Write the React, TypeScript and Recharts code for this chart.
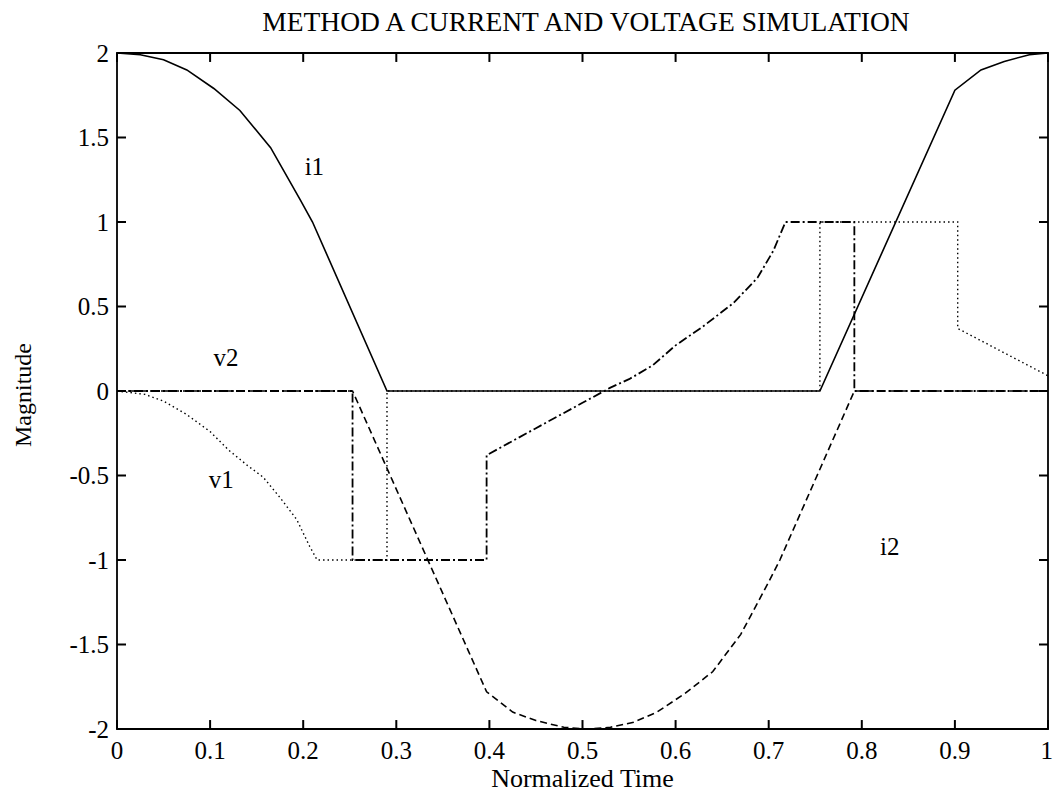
import { Line, LineChart, ReferenceArea, ReferenceDot, ReferenceLine, XAxis, YAxis } from "recharts";

const xTicks = [0, 0.1, 0.2, 0.3, 0.4, 0.5, 0.6, 0.7, 0.8, 0.9, 1];
const yTicks = [-2, -1.5, -1, -0.5, 0, 0.5, 1, 1.5, 2];

// [normalized time, magnitude]
const i1Points: [number, number][] = [
  [0, 2.0], [0.025, 1.99], [0.05, 1.96], [0.075, 1.9], [0.104, 1.79],
  [0.132, 1.66], [0.165, 1.44], [0.197, 1.13], [0.21, 1.0], [0.29, 0],
  [0.755, 0], [0.9, 1.78], [0.928, 1.9], [0.953, 1.95], [0.98, 1.99], [1, 2.0],
];

const i2Points: [number, number][] = [
  [0, 0], [0.253, 0], [0.397, -1.78], [0.425, -1.9], [0.45, -1.95],
  [0.48, -1.99], [0.505, -2.0], [0.53, -1.99], [0.555, -1.96], [0.58, -1.9],
  [0.61, -1.79], [0.64, -1.66], [0.67, -1.44], [0.7, -1.13], [0.712, -1.0],
  [0.792, 0], [1, 0],
];

const v1Points: [number, number][] = [
  [0, 0], [0.03, -0.02], [0.05, -0.06], [0.075, -0.14], [0.1, -0.24],
  [0.12, -0.35], [0.14, -0.44], [0.157, -0.51], [0.175, -0.63], [0.193, -0.76],
  [0.207, -0.92], [0.215, -1.0], [0.29, -1.0], [0.29, 0], [0.755, 0],
  [0.755, 1.0], [0.903, 1.0], [0.903, 0.37], [1, 0.09],
];

const v2Points: [number, number][] = [
  [0, 0], [0.253, 0], [0.253, -1.0], [0.397, -1.0], [0.397, -0.38],
  [0.45, -0.22], [0.5, -0.07], [0.53, 0.02], [0.55, 0.07], [0.575, 0.15],
  [0.6, 0.27], [0.629, 0.38], [0.662, 0.52], [0.688, 0.67], [0.705, 0.83],
  [0.718, 1.0], [0.792, 1.0], [0.792, 0], [1, 0],
];

const curveLabels: { text: string; t: number; v: number }[] = [
  { text: "i1", t: 0.212, v: 1.33 },
  { text: "v2", t: 0.117, v: 0.2 },
  { text: "v1", t: 0.112, v: -0.52 },
  { text: "i2", t: 0.83, v: -0.92 },
];

const toRows = (pts: [number, number][]) => pts.map(([t, v]) => ({ t, v }));

const font = "'Liberation Serif', 'DejaVu Serif', serif";
const tickStyle = { fill: "#000", fontSize: 25, fontFamily: font };

// inward tick length, in data units (about 9px each way)
const X_TICK_LEN = 0.0097;
const Y_TICK_LEN = 0.053;
const tickMark = { stroke: "#000", strokeWidth: 2, ifOverflow: "visible" as const };

export default function App() {
  return (
    <div style={{ position: "absolute", left: 0, top: 0, width: 1053, height: 798, background: "#fff", fontFamily: font }}>
      <LineChart width={1053} height={798} margin={{ top: 53, right: 5, bottom: 0, left: 57 }}>
        <XAxis
          type="number"
          dataKey="t"
          domain={[0, 1]}
          allowDataOverflow
          ticks={xTicks}
          height={69}
          tickSize={0}
          tickMargin={12}
          axisLine={false}
          tickLine={false}
          tick={tickStyle}
        />
        <YAxis
          type="number"
          domain={[-2, 2]}
          allowDataOverflow
          ticks={yTicks}
          width={60}
          tickSize={0}
          tickMargin={8}
          axisLine={false}
          tickLine={false}
          tick={tickStyle}
        />
        <ReferenceArea x1={0} x2={1} y1={-2} y2={2} fill="none" fillOpacity={0} stroke="#000" strokeWidth={1.8} ifOverflow="visible" />
        {xTicks.map((t) => (
          <ReferenceLine key={`b${t}`} segment={[{ x: t, y: -2 }, { x: t, y: -2 + Y_TICK_LEN }]} {...tickMark} />
        ))}
        {xTicks.map((t) => (
          <ReferenceLine key={`t${t}`} segment={[{ x: t, y: 2 }, { x: t, y: 2 - Y_TICK_LEN }]} {...tickMark} />
        ))}
        {yTicks.map((v) => (
          <ReferenceLine key={`l${v}`} segment={[{ x: 0, y: v }, { x: X_TICK_LEN, y: v }]} {...tickMark} />
        ))}
        {yTicks.map((v) => (
          <ReferenceLine key={`r${v}`} segment={[{ x: 1, y: v }, { x: 1 - X_TICK_LEN, y: v }]} {...tickMark} />
        ))}
        <Line data={toRows(v2Points)} dataKey="v" type="linear" stroke="#000" strokeWidth={1.8} strokeDasharray="9 3 2 3" dot={false} isAnimationActive={false} />
        <Line data={toRows(v1Points)} dataKey="v" type="linear" stroke="#000" strokeWidth={1.4} strokeDasharray="1.5 3" dot={false} isAnimationActive={false} />
        <Line data={toRows(i2Points)} dataKey="v" type="linear" stroke="#000" strokeWidth={1.6} strokeDasharray="7 4" dot={false} isAnimationActive={false} />
        <Line data={toRows(i1Points)} dataKey="v" type="linear" stroke="#000" strokeWidth={1.6} dot={false} isAnimationActive={false} />
        {curveLabels.map((l) => (
          <ReferenceDot
            key={l.text}
            x={l.t}
            y={l.v}
            r={0}
            fill="none"
            stroke="none"
            label={{ value: l.text, position: "center", fill: "#000", fontSize: 25, fontFamily: font }}
          />
        ))}
      </LineChart>
      <div style={{ position: "absolute", left: 0, width: 1172, top: 6, textAlign: "center", fontSize: 27.5, color: "#000", whiteSpace: "nowrap" }}>
        METHOD A CURRENT AND VOLTAGE SIMULATION
      </div>
      <div style={{ position: "absolute", left: 0, width: 1165, top: 764, textAlign: "center", fontSize: 26, color: "#000" }}>
        Normalized Time
      </div>
      <div
        style={{
          position: "absolute",
          left: 23,
          top: 395,
          fontSize: 24,
          color: "#000",
          whiteSpace: "nowrap",
          transform: "translate(-50%, -50%) rotate(-90deg)",
        }}
      >
        Magnitude
      </div>
    </div>
  );
}
